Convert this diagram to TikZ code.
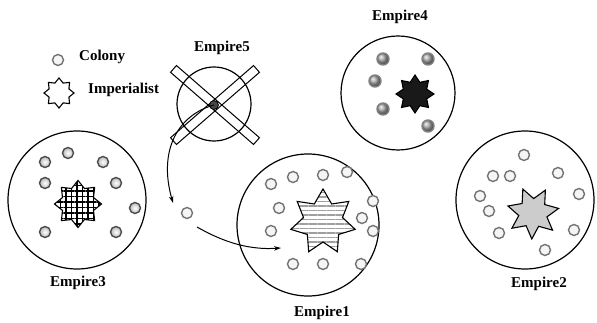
\documentclass[tikz,border=0pt]{standalone}
\usepackage{fontspec}
\setmainfont{Liberation Serif}
\usetikzlibrary{shapes.geometric,arrows.meta,patterns.meta}
\begin{document}
\begin{tikzpicture}[x=1pt,y=-1pt,
  empire/.style={circle,draw,line width=1.2pt,inner sep=0pt},
  col/.style={circle,draw=black!55,line width=1.4pt,fill=gray!8,inner sep=0pt,minimum size=11pt},
  colb/.style={col,draw=black!70,inner color=white,outer color=gray!55},
  cold/.style={col,draw=black!50,ball color=gray!70,minimum size=12pt},
  lbl/.style={font=\fontsize{15}{18}\selectfont\bfseries,inner sep=0pt},
  starshape/.style={star,draw,line width=1.1pt,inner sep=0pt},
  bar/.style={rectangle,draw,line width=1pt,minimum width=110pt,minimum height=9pt,inner sep=0pt},
  arr/.style={line width=1pt,-{Stealth[length=7pt,width=4.5pt]}}
]
\useasboundingbox (0,0) rectangle (597,323);

% legend
\node[col] (lcol) at (58,60) {};
\node[lbl,anchor=west] (lcoltxt) at (79,57) {Colony};
\node[starshape,star points=8,star point ratio=1.4,minimum size=30pt,fill=white] (lstar) at (59,93) {};
\node[lbl,anchor=west] (lstartxt) at (88,90) {Imperialist};

% Empire 3
\node[empire,minimum size=138pt] (e3) at (77,200) {};
\node[starshape,star points=8,star point ratio=1.4,minimum size=47pt,
      pattern={Hatch[angle=0,distance=5.5pt,line width=1.6pt]},pattern color=black] (s3) at (78,204) {};
\foreach \p [count=\i] in {(45,162),(68,153),(103,162),(45,183),(116,183),(135,208),(45,232),(116,232)}
  \node[colb] (c3\i) at \p {};
\node[lbl] (t3) at (78,283) {Empire3};

% Empire 5
\node[empire,minimum size=74pt] (e5) at (214,104) {};
\node[bar,rotate=-41] (b1) at (215,105) {};
\node[bar,rotate=41] (b2) at (215,105) {};
\node[circle,draw,line width=0.8pt,fill=gray!55!black,minimum size=9pt,inner sep=0pt] (e5dot) at (214,105) {};
\node[lbl] (t5) at (222,48) {Empire5};

% migrating colony and arrows
\coordinate (a1end) at (173,203);
\node[col] (mig) at (187,213) {};
\coordinate (a2start) at (197,227);
\coordinate (a2end) at (281,248);
\draw[arr] (e5dot.center) .. controls (178,115) and (158,150) .. (a1end);
\draw[arr] (a2start) .. controls (225,243) and (250,250) .. (a2end);

% Empire 4
\node[empire,minimum size=114pt] (e4) at (398,93) {};
\node[starshape,star points=8,star point ratio=1.5,minimum size=38pt,fill=black!90] (s4) at (415,94) {};
\foreach \p [count=\i] in {(383,59),(428,59),(375,81),(383,109),(428,126)}
  \node[cold] (c4\i) at \p {};
\node[lbl] (t4) at (400,17) {Empire4};

% Empire 1
\node[empire,minimum size=142pt] (e1) at (308,225) {};
\node[starshape,star points=7,star point ratio=1.65,minimum size=66pt,fill=white,
      pattern={Lines[angle=0,distance=4.5pt,line width=1.4pt]},pattern color=gray!75] (s1) at (323,222) {};
\foreach \p [count=\i] in {(271,184),(293,177),(323,175),(347,172),(279,208),(271,231),(373,201),(362,218),(373,231),(293,264),(323,264),(361,264)}
  \node[col] (c1\i) at \p {};
\node[lbl] (t1) at (322,313) {Empire1};

% Empire 2
\node[empire,minimum size=138pt] (e2) at (525,200) {};
\node[starshape,star points=7,star point ratio=1.8,minimum size=52pt,fill=gray!40,shape border rotate=23] (s2) at (533,213) {};
\foreach \p [count=\i] in {(524,155),(493,176),(510,176),(558,173),(480,196),(579,194),(489,211),(499,233),(574,230),(545,250)}
  \node[col] (c2\i) at \p {};
\node[lbl] (t2) at (539,284) {Empire2};
\end{tikzpicture}
\end{document}
